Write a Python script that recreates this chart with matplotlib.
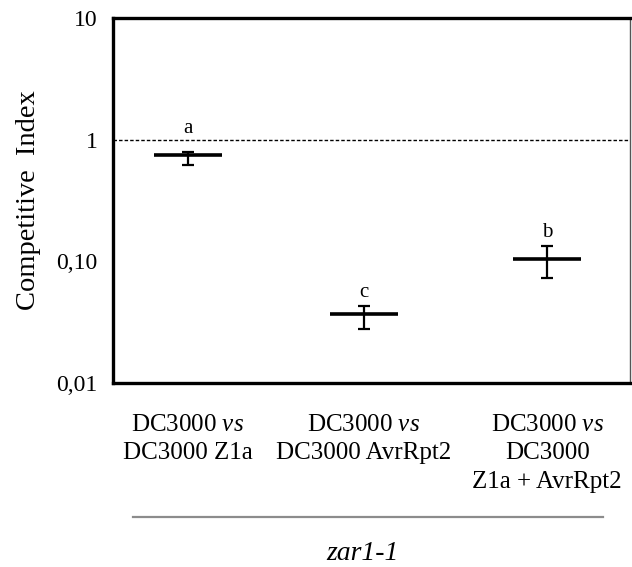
import matplotlib
matplotlib.use('Agg')
import matplotlib.pyplot as plt
from matplotlib.lines import Line2D
from matplotlib.ticker import FixedLocator, NullLocator

plt.rcParams['font.family'] = ['Liberation Serif', 'DejaVu Serif']
plt.rcParams['mathtext.fontset'] = 'custom'
plt.rcParams['mathtext.rm'] = 'Liberation Serif'
plt.rcParams['mathtext.it'] = 'Liberation Serif:italic'

# ── DATA ──────────────────────────────────────────────────────────────────────
categories = ['DC3000 $\\it{vs}$\nDC3000 Z1a',
              'DC3000 $\\it{vs}$\nDC3000 AvrRpt2',
              'DC3000 $\\it{vs}$\nDC3000\nZ1a + AvrRpt2']
ci_mean  = [0.75, 0.037, 0.105]
ci_upper = [0.79, 0.043, 0.134]
ci_lower = [0.62, 0.028, 0.073]
letters  = ['a', 'c', 'b']
yticks      = [0.01, 0.1, 1, 10]
ytick_names = ['0,01', '0,10', '1', '10']
group_label = 'zar1-1'

# ── LAYOUT ────────────────────────────────────────────────────────────────────
xpos   = [0.145, 0.485, 0.84]
half_w = 0.066

fig = plt.figure(figsize=(6.32, 5.67), dpi=100)
ax = fig.add_axes([0.1788, 0.3245, 0.818, 0.6438])
ax.set_yscale('log')
ax.set_ylim(0.01, 10)
ax.set_xlim(0, 1)

ax.axhline(1, color='black', lw=1.0, ls=(0, (2.5, 1.5)), zorder=1)

for x, m, up, lo, let, off in zip(xpos, ci_mean, ci_upper, ci_lower, letters, [10, 3, 3]):
    ax.hlines(m, x - half_w, x + half_w, color='black', lw=2.6, zorder=3)
    ax.errorbar([x], [m], yerr=[[m - lo], [up - m]], fmt='none', ecolor='black',
                elinewidth=1.6, capsize=4, capthick=1.6, zorder=3)
    ax.annotate(let, (x, up), xytext=(0, off), textcoords='offset points',
                ha='center', va='bottom', fontsize=15)

ax.yaxis.set_major_locator(FixedLocator(yticks))
ax.yaxis.set_minor_locator(NullLocator())
ax.set_yticklabels(ytick_names, fontsize=17)
ax.set_xticks(xpos)
ax.set_xticklabels(categories, fontsize=18, linespacing=1.4, va='top')
ax.tick_params(axis='both', length=0)
ax.tick_params(axis='x', pad=22)
ax.tick_params(axis='y', pad=11)
ax.set_ylabel('Competitive  Index', fontsize=20.5, labelpad=11)

for s in ['left', 'top', 'bottom']:
    ax.spines[s].set_linewidth(2.4)
ax.spines['right'].set_linewidth(1.0)
ax.spines['right'].set_color('#555555')

fig.add_artist(Line2D([133/632, 603/632], [1 - 517/567, 1 - 517/567],
                      transform=fig.transFigure, color='#8c8c8c', lw=1.6))
fig.text(363/632, 1 - 553/567, group_label, ha='center', va='center',
         fontsize=20, style='italic')

fig.savefig('out.png', dpi=100)
